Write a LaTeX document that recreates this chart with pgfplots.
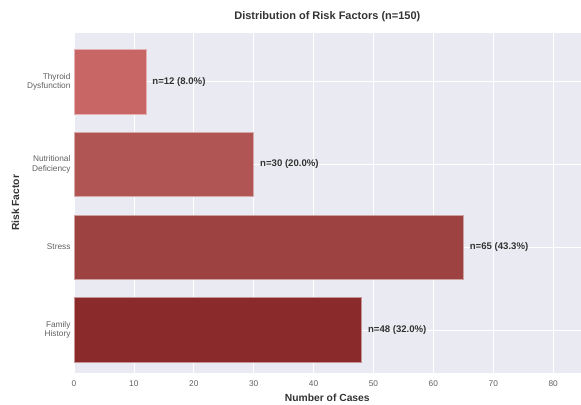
\documentclass[border=0pt]{standalone}
\usepackage{pgfplots}
\pgfplotsset{compat=1.18}
\usepackage{fontspec}
\setmainfont{Liberation Sans}
\definecolor{bgc}{HTML}{EAEAF2}
\definecolor{cA}{HTML}{C86666}
\definecolor{cB}{HTML}{B05454}
\definecolor{cC}{HTML}{9E4141}
\definecolor{cD}{HTML}{8A2A2A}
\definecolor{tickc}{HTML}{606060}
\definecolor{txt}{HTML}{333333}
\begin{document}
\begin{tikzpicture}
\path (0pt,0pt) rectangle (581pt,402pt);
\begin{axis}[
  at={(74pt,29pt)}, anchor=south west,
  scale only axis, width=507pt, height=340pt,
  xmin=0, xmax=84.6, ymin=-0.52, ymax=3.59,
  axis background/.style={fill=bgc},
  axis line style={draw=none},
  major tick length=0pt,
  xtick={0,10,...,80},
  ytick={0,1,2,3},
  yticklabels={{Family\\History},{Stress},{Nutritional\\Deficiency},{Thyroid\\Dysfunction}},
  yticklabel style={align=right, font=\fontsize{8.3}{9.5}\selectfont, text=tickc},
  xticklabel style={font=\fontsize{8.3}{9.5}\selectfont, text=tickc, yshift=-4pt},
  /pgf/number format/assume math mode=true,
  grid=major,
  major grid style={draw=white, line width=0.6pt},
  xlabel={\textbf{Number of Cases}},
  ylabel={\textbf{Risk Factor}},
  xlabel style={font=\fontsize{10.3}{12}\selectfont, text=txt, yshift=-1pt},
  ylabel style={font=\fontsize{10.3}{12}\selectfont, text=txt, yshift=1pt},
  title={\textbf{Distribution of Risk Factors (n=150)}},
  title style={font=\fontsize{11}{13}\selectfont, text=txt, yshift=2pt},
  xbar, bar width=0.78, bar shift=0pt,
  nodes near coords,
  point meta=explicit symbolic,
  every node near coord/.append style={anchor=west, xshift=3pt, font=\fontsize{9.6}{11}\selectfont\bfseries, text=txt},
  clip=false,
]
\addplot[fill=cD, draw=cD!50!white, line width=0.5pt] coordinates {(48,0) [n=48 (32.0\%)]};
\addplot[fill=cC, draw=cC!50!white, line width=0.5pt] coordinates {(65,1) [n=65 (43.3\%)]};
\addplot[fill=cB, draw=cB!50!white, line width=0.5pt] coordinates {(30,2) [n=30 (20.0\%)]};
\addplot[fill=cA, draw=cA!50!white, line width=0.5pt] coordinates {(12,3) [n=12 (8.0\%)]};
\end{axis}
\end{tikzpicture}
\end{document}
